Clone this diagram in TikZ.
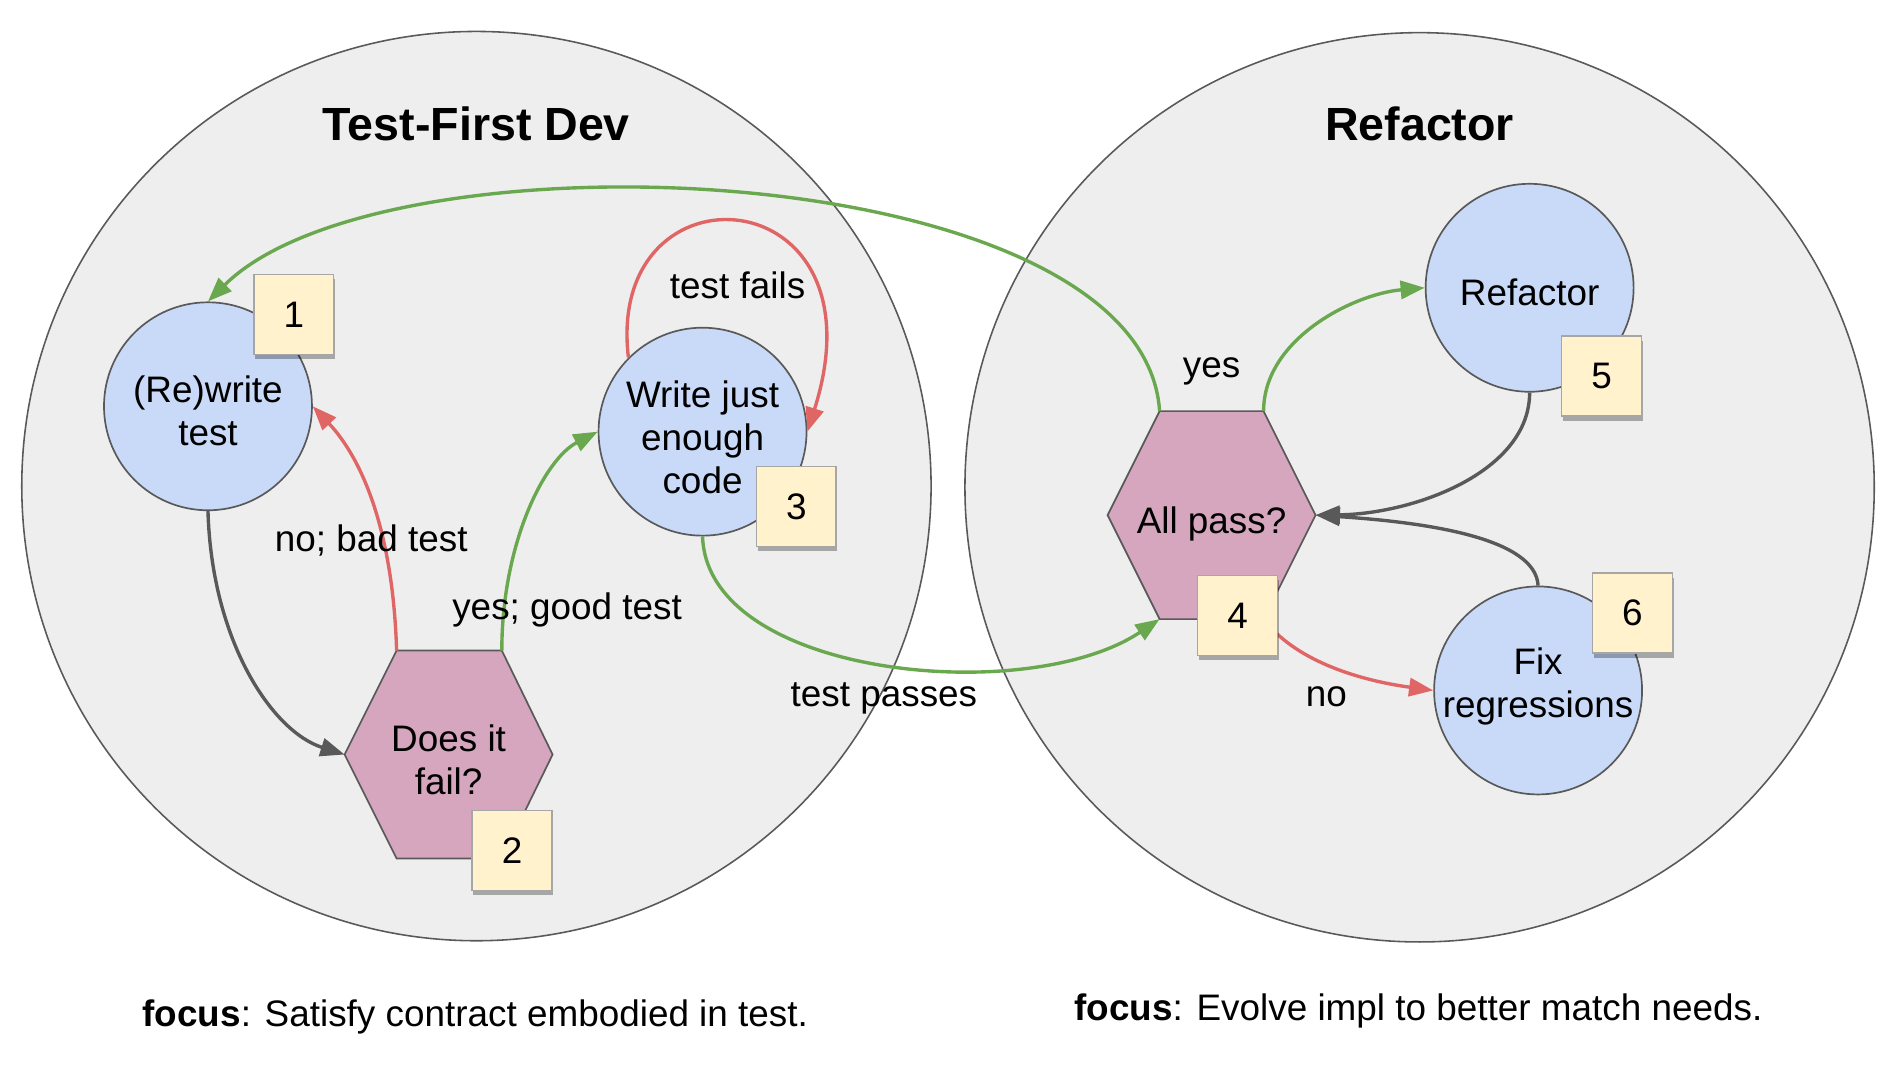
\documentclass[tikz,border=0pt]{standalone}
\usepackage{fontspec}
\setmainfont{Liberation Sans}
\usetikzlibrary{arrows.meta,shadows}
\definecolor{bggray}{HTML}{EEEEEE}
\definecolor{edgegray}{HTML}{595959}
\definecolor{procblue}{HTML}{C9DAF8}
\definecolor{decpink}{HTML}{D5A6BD}
\definecolor{badgeyel}{HTML}{FFF2CC}
\definecolor{badgeedge}{HTML}{A6A6A6}
\definecolor{gogreen}{HTML}{6AA84F}
\definecolor{stopred}{HTML}{E06666}
\definecolor{arrowgray}{HTML}{595959}
\begin{document}
\begin{tikzpicture}[x=1pt,y=-1pt,
  every node/.style={font=\fontsize{30.5}{35.5}\selectfont},
  bigcirc/.style={circle, draw=edgegray, fill=bggray, line width=1.3pt, minimum size=752pt, inner sep=0pt},
  procnode/.style={circle, draw=edgegray, fill=procblue, line width=1.4pt, minimum size=172pt, inner sep=0pt},
  decshape/.style={draw=edgegray, fill=decpink, line width=1.4pt},
  txt/.style={align=center, inner sep=0pt},
  lbl/.style={anchor=base, inner sep=0pt},
  titlefont/.style={font=\bfseries\fontsize{38.5}{42}\selectfont},
  badge/.style={rectangle, draw=badgeedge, fill=badgeyel, line width=1.2pt, minimum width=66pt, minimum height=66pt, inner sep=0pt, drop shadow={shadow xshift=1pt, shadow yshift=-4pt, opacity=0.3, fill=black}},
  conn/.style={line width=2.8pt, -{Triangle[length=20pt,width=15pt]}},
]
\fill[white] (0,0) rectangle (1568,880);
\useasboundingbox (0,0) rectangle (1568,880);

% large groups
\node[bigcirc] (gl) at (394,402) {};
\node[bigcirc] (gr) at (1174,403) {};
\node[titlefont, lbl] (tl) at (394,116) {Test-First Dev};
\node[titlefont, lbl] (tr) at (1174,116) {Refactor};

% process nodes
\node[procnode] (n1) at (172,336) {};
\node[txt] (n1t) at (172,340) {(Re)write\\test};
\node[procnode] (n3) at (581,357) {};
\node[txt] (n3t) at (581,362) {Write just\\enough\\code};
\node[procnode] (n5) at (1265,238) {};
\node[txt] (n5t) at (1265,242) {Refactor};
\node[procnode] (n6) at (1272,571) {};
\node[txt] (n6t) at (1272,568) {Fix\\regressions};

% decision hexagons
\draw[decshape] (285,624) coordinate (h2l) -- (328,538) coordinate (h2tl) -- (415,538) coordinate (h2tr)
  -- (457,624) coordinate (h2r) -- (415,710) coordinate (h2br) -- (328,710) coordinate (h2bl) -- cycle;
\node[txt] (h2) at (371,628) {Does it\\fail?};
\draw[decshape] (916,426) coordinate (h4l) -- (959,340) coordinate (h4tl) -- (1045,340) coordinate (h4tr)
  -- (1088,426) coordinate (h4r) -- (1045,512) coordinate (h4br) -- (959,512) coordinate (h4bl) -- cycle;
\node[txt] (h4) at (1002,433) {All pass?};

% connectors
\draw[conn, gogreen] (h4tl) .. controls (945,130) and (320,103) .. (n1.north);
\draw[conn, gogreen] (h4tr) .. controls (1045,280) and (1120,243) .. (n5.west);
\draw[conn, arrowgray] (n5.south) .. controls (1265,390) and (1170,425) .. (h4r);
\draw[conn, arrowgray] (n6.north) .. controls (1270,445) and (1180,432) .. (h4r);
\draw[conn, stopred] (h4br) .. controls (1070,545) and (1120,562) .. (n6.west);
\draw[conn, stopred] (h2tl) .. controls (325,440) and (300,380) .. (n1.east);
\draw[conn, gogreen] (h2tr) .. controls (415,450) and (450,380) .. (n3.west);
\draw[conn, arrowgray] (n1.south) .. controls (175,530) and (225,605) .. (h2l);
\draw[conn, gogreen] (n3.south) .. controls (585,560) and (850,585) .. (h4bl);
\draw[conn, stopred] (n3.135) .. controls (500,130) and (735,145) .. (n3.east);

% labels
\node[lbl] (lfails) at (610,247) {test fails};
\node[lbl] (lbad) at (307,456) {no; bad test};
\node[lbl] (lgood) at (469,512) {yes; good test};
\node[lbl] (lpass) at (731,584) {test passes};
\node[lbl] (lyes) at (1002,312) {yes};
\node[lbl] (lno) at (1097,584) {no};

% badges
\node[badge] (b1) at (243,260) {1};
\node[badge] (b2) at (423.5,703.5) {2};
\node[badge] (b3) at (658.5,419) {3};
\node[badge] (b4) at (1023.5,509) {4};
\node[badge] (b5) at (1324.5,311) {5};
\node[badge] (b6) at (1350,507) {6};

% footers
\node[lbl] (f1) at (393,849) {\textbf{focus}: Satisfy contract embodied in test.};
\node[lbl] (f2) at (1173,844) {\textbf{focus}: Evolve impl to better match needs.};
\end{tikzpicture}
\end{document}
